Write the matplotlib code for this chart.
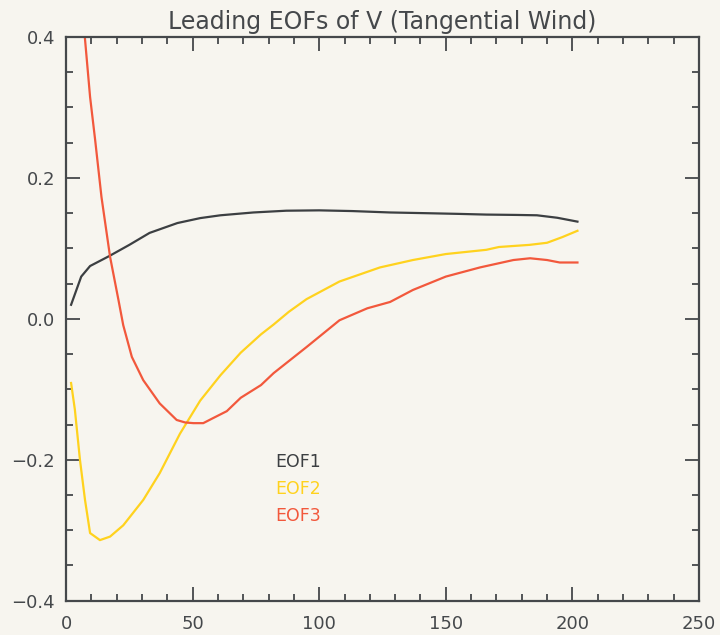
import matplotlib
matplotlib.use("Agg")
import matplotlib.pyplot as plt
from matplotlib.ticker import MultipleLocator, FuncFormatter

# Leading EOFs of tangential wind, sampled along radius
r_eof1 = [2, 6, 9.5, 17, 25, 33, 44, 53, 61, 74, 87, 100, 113, 128, 142, 155, 166, 178, 186, 194, 202]
eof1 = [0.020, 0.060, 0.075, 0.089, 0.105, 0.122, 0.136, 0.143, 0.147, 0.151, 0.1535, 0.154,
        0.153, 0.151, 0.150, 0.149, 0.148, 0.1475, 0.147, 0.1435, 0.138]

r_eof2 = [2, 3.5, 5.5, 7.5, 9.5, 13.4, 17.4, 22.6, 30.5, 37, 45, 53, 61, 69, 77, 82, 88, 95,
          108, 124, 137, 150, 166, 171, 183, 190, 196, 202]
eof2 = [-0.091, -0.129, -0.200, -0.257, -0.304, -0.314, -0.309, -0.293, -0.257, -0.219,
        -0.163, -0.116, -0.080, -0.048, -0.022, -0.008, 0.010, 0.028, 0.053, 0.073, 0.0835,
        0.092, 0.098, 0.102, 0.105, 0.108, 0.116, 0.125]

r_eof3 = [7.3, 9.5, 11.5, 14, 17.4, 20.7, 22.6, 26, 30.5, 37, 43.7, 47, 50.3, 54.2, 58,
          63.5, 69, 77, 82, 95, 108, 119, 128, 137, 150, 163.5, 176.7, 183.3, 190, 195, 202]
eof3 = [0.405, 0.315, 0.254, 0.173, 0.088, 0.027, -0.009, -0.054, -0.087, -0.120, -0.1435,
        -0.147, -0.148, -0.148, -0.141, -0.131, -0.112, -0.094, -0.077, -0.040, -0.002,
        0.015, 0.024, 0.041, 0.060, 0.073, 0.0835, 0.086, 0.0835, 0.080, 0.080]

labels = ["EOF1", "EOF2", "EOF3"]
colors = ["#3c3f42", "#ffd21e", "#f2583c"]

bg = "#f7f5ef"
ink = "#45484b"

plt.rcParams.update({
    "font.family": "DejaVu Sans",
    "axes.edgecolor": ink,
    "xtick.color": ink,
    "ytick.color": ink,
    "text.color": ink,
})

fig = plt.figure(figsize=(7.2, 6.35), dpi=100, facecolor=bg)
ax = fig.add_axes([0.0917, 0.054, 0.8791, 0.8877], facecolor=bg)

for r, v, c in zip([r_eof1, r_eof2, r_eof3], [eof1, eof2, eof3], colors):
    ax.plot(r, v, color=c, linewidth=1.6, solid_joinstyle="round")

ax.set_xlim(0, 250)
ax.set_ylim(-0.4, 0.4)
ax.xaxis.set_major_locator(MultipleLocator(50))
ax.xaxis.set_minor_locator(MultipleLocator(10))
ax.yaxis.set_major_locator(MultipleLocator(0.2))
ax.yaxis.set_minor_locator(MultipleLocator(0.05))
ax.yaxis.set_major_formatter(FuncFormatter(
    lambda v, p: f"{v:.1f}".replace("-", "\u2212")))

ax.tick_params(which="both", direction="in", top=True, right=True, width=1.3)
ax.tick_params(which="major", length=10, labelsize=13)
ax.tick_params(which="minor", length=5)
ax.tick_params(axis="x", pad=10)
ax.tick_params(axis="y", pad=8)
for s in ax.spines.values():
    s.set_linewidth(1.6)

ax.set_title("Leading EOFs of V (Tangential Wind)", fontsize=17, pad=6)

# labels drawn as plain text in their own line colours
for i, (lab, c) in enumerate(zip(labels, colors)):
    ax.text(82.5, -0.203 - 0.0385 * i, lab, color=c, fontsize=12.5,
            va="center", ha="left")

fig.savefig("out.png", dpi=100, facecolor=bg)
